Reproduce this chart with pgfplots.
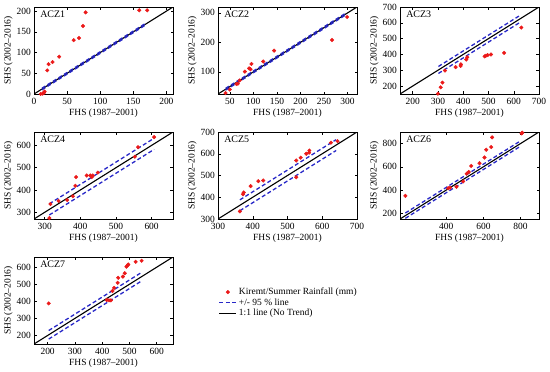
\documentclass[border=0pt]{standalone}
\usepackage{pgfplots}
\pgfplotsset{compat=1.18}
\usepackage{fontspec}
\setmainfont{Liberation Serif}
\definecolor{ptred}{RGB}{235,25,25}
\definecolor{dblue}{RGB}{40,40,200}
\pgfplotsset{
  acz/.style={
    anchor=north west, scale only axis, width=139bp, height=87bp,
    font=\fontsize{9.5}{10}\selectfont,
    /pgf/number format/assume math mode=true,
    tick align=inside, major tick length=2.5bp,
    tick style={black, line width=0.4bp},
    axis line style={line width=0.5bp},
    xlabel={FHS (1987--2001)}, ylabel={SHS (2002--2016)},
    xlabel style={yshift=1bp}, ylabel style={yshift=-1bp},
    xticklabel style={yshift=-2.5bp},
    yticklabel style={xshift=-1.5bp},
    every tick label/.append style={inner sep=1.5bp},
    clip=true,
  },
  pts/.style={only marks, mark=*, mark size=1.8bp, color=ptred, forget plot},
  bdash/.style={dblue, line width=1.3bp, dash pattern=on 4bp off 2.5bp, forget plot},
  oneone/.style={black, line width=1.1bp, forget plot},
}
\newcommand{\panel}[1]{\node[anchor=north west, font=\fontsize{10}{10}\selectfont] at (rel axis cs:0.02,0.99) {#1};}
\begin{document}
\begin{tikzpicture}
\path[use as bounding box] (0bp,0bp) rectangle (550bp,-372bp);

% ACZ1
\begin{axis}[acz, at={(34bp,-7bp)}, xmin=0, xmax=210, ymin=0, ymax=210,
  xtick={0,50,...,200}, ytick={0,50,...,200}]
\addplot[oneone] coordinates {(0,0) (210,210)};
\addplot[bdash] coordinates {(12,14) (169,171)};
\addplot[bdash] coordinates {(12,10) (169,167)};
\addplot[pts] coordinates {(10,0) (13,1) (15,3) (16,6) (20,57) (22,72) (28,77) (38,90)
  (60,130) (68,135) (74,164) (78,197) (159,202) (171,202)};
\panel{ACZ1}
\end{axis}

% ACZ2
\begin{axis}[acz, at={(218bp,-7bp)}, xmin=25, xmax=320, ymin=25, ymax=320,
  xtick={50,100,...,300}, ytick={100,200,300}]
\addplot[oneone] coordinates {(25,25) (320,320)};
\addplot[bdash] coordinates {(41,44) (294,297)};
\addplot[bdash] coordinates {(41,38) (294,291)};
\addplot[pts] coordinates {(41,28) (50,40) (64,59) (67,60) (71,71) (82,101) (91,112)
  (94,109) (96,127) (121,135) (144,172) (267,208) (299,286)};
\panel{ACZ2}
\end{axis}

% ACZ3
\begin{axis}[acz, at={(400bp,-7bp)}, xmin=150, xmax=700, ymin=150, ymax=700,
  xtick={200,300,...,700}, ytick={200,300,...,700}]
\addplot[oneone] coordinates {(150,150) (700,700)};
\addplot[bdash] coordinates {(302,324) (628,650)};
\addplot[bdash] coordinates {(302,280) (628,606)};
\addplot[pts] coordinates {(300,152) (311,192) (318,222) (328,298) (370,320) (390,328)
  (391,338) (412,368) (416,382) (485,388) (490,392) (497,396) (510,400) (562,410) (630,570)};
\panel{ACZ3}
\end{axis}

% ACZ4
\begin{axis}[acz, at={(34bp,-132bp)}, xmin=270, xmax=660, ymin=270, ymax=660,
  xtick={300,400,500,600}, ytick={300,400,500,600}]
\addplot[oneone] coordinates {(270,270) (660,660)};
\addplot[bdash] coordinates {(313,338) (607,632)};
\addplot[bdash] coordinates {(313,288) (607,582)};
\addplot[pts] coordinates {(313,274) (316,337) (339,351) (363,355) (379,372) (386,419)
  (388,458) (418,465) (428,465) (435,465) (432,458) (449,478) (553,549) (562,592) (607,637)};
\panel{ACZ4}
\end{axis}

% ACZ5
\begin{axis}[acz, at={(218bp,-132bp)}, xmin=300, xmax=700, ymin=300, ymax=700,
  xtick={300,400,...,700}, ytick={300,400,...,700}]
\addplot[oneone] coordinates {(300,300) (700,700)};
\addplot[bdash] coordinates {(363,388) (640,665)};
\addplot[bdash] coordinates {(363,338) (640,615)};
\addplot[pts] coordinates {(363,335) (372,414) (374,422) (394,451) (416,474) (430,477)
  (525,492) (525,569) (538,582) (554,600) (562,605) (563,615) (625,651) (644,658)};
\panel{ACZ5}
\end{axis}

% ACZ6
\begin{axis}[acz, at={(400bp,-132bp)}, xmin=150, xmax=900, ymin=150, ymax=900,
  xtick={400,600,800}, ytick={200,400,600,800}]
\addplot[oneone] coordinates {(150,150) (900,900)};
\addplot[bdash] coordinates {(179,202) (800,823)};
\addplot[bdash] coordinates {(179,156) (800,777)};
\addplot[pts] coordinates {(179,350) (410,415) (420,420) (455,428) (491,474) (510,541)
  (521,555) (534,607) (579,631) (606,680) (615,747) (642,770) (647,854) (806,888) (810,894)};
\panel{ACZ6}
\end{axis}

% ACZ7
\begin{axis}[acz, at={(34bp,-257bp)}, xmin=150, xmax=660, ymin=150, ymax=660,
  xtick={200,300,...,600}, ytick={200,300,...,600},
  legend style={draw=none, fill=none, at={(1.32,0.68)}, anchor=north west,
    font=\fontsize{9.5}{10}\selectfont, row sep=-1.5bp, inner sep=1bp},
  legend cell align=left]
\addlegendimage{only marks, mark=*, mark size=1.8bp, color=ptred}
\addlegendentry{Kiremt/Summer Rainfall (mm)}
\addlegendimage{dblue, line width=1.3bp, dash pattern=on 4bp off 2.5bp}
\addlegendentry{+/- 95 \% line}
\addlegendimage{black, line width=1.1bp}
\addlegendentry{1:1 line (No Trend)}
\addplot[oneone] coordinates {(150,150) (660,660)};
\addplot[bdash] coordinates {(204,229) (545,570)};
\addplot[bdash] coordinates {(204,179) (545,520)};
\addplot[pts] coordinates {(204,388) (417,408) (425,406) (432,406) (438,461) (444,479)
  (457,509) (459,538) (476,545) (483,565) (489,603) (493,610) (496,616) (523,632) (545,638)};
\panel{ACZ7}
\end{axis}
\end{tikzpicture}
\end{document}
